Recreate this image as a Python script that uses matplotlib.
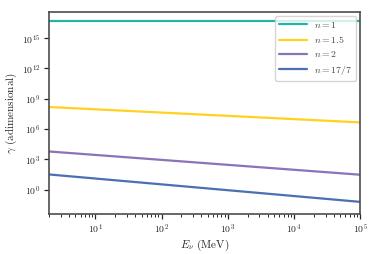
import matplotlib
matplotlib.use('Agg')
import matplotlib.pyplot as plt
import seaborn as sns

# endpoints of each power law (straight lines in log-log)
energy = [2, 1e5]  # MeV
gamma_n1 = [5e16, 5e16]
gamma_n15 = [1.5e8, 4.5e6]
gamma_n2 = [6.0e3, 30]
gamma_n177 = [32, 0.062]
labels = [r'$n=1$', r'$n=1.5$', r'$n=2$', r'$n=17/7$']
colors = ['#22b5a6', '#ffd21f', '#8a74b8', '#4a6fb3']

sns.set_style('ticks')
plt.rcParams['font.family'] = ['cmr10', 'DejaVu Serif']
plt.rcParams['mathtext.fontset'] = 'cm'
plt.rcParams['axes.formatter.use_mathtext'] = True

fig = plt.figure(figsize=(3.74, 2.54), dpi=100)
ax = fig.add_axes([0.131, 0.157, 0.832, 0.796])

for g, lab, c in zip([gamma_n1, gamma_n15, gamma_n2, gamma_n177], labels, colors):
	ax.plot(energy, g, color=c, lw=1.6, label=lab)

ax.set_xscale('log')
ax.set_yscale('log')
ax.set_xlim(2, 1e5)
ax.set_ylim(10**-2.42, 10**17.58)
ax.set_yticks([1e0, 1e3, 1e6, 1e9, 1e12, 1e15])
ax.yaxis.set_minor_locator(matplotlib.ticker.NullLocator())
ax.tick_params(labelsize=7, length=3.5, width=0.9, colors='.15', pad=2.5)
ax.tick_params(which='minor', length=2, width=0.7)
for s in ax.spines.values():
	s.set_color('.3')
	s.set_linewidth(1.2)

ax.set_xlabel(r'$E_\nu$ (MeV)', size=8, labelpad=1)
ax.set_ylabel(r'$\gamma$ (adimensional)', size=8, labelpad=2)
leg = ax.legend(loc='upper right', fontsize=7, frameon=True, handlelength=2.8,
	borderaxespad=0.4, labelspacing=0.45)
for t in leg.get_texts():
	t.set_color('.25')

plt.savefig('out.png', dpi=100)
